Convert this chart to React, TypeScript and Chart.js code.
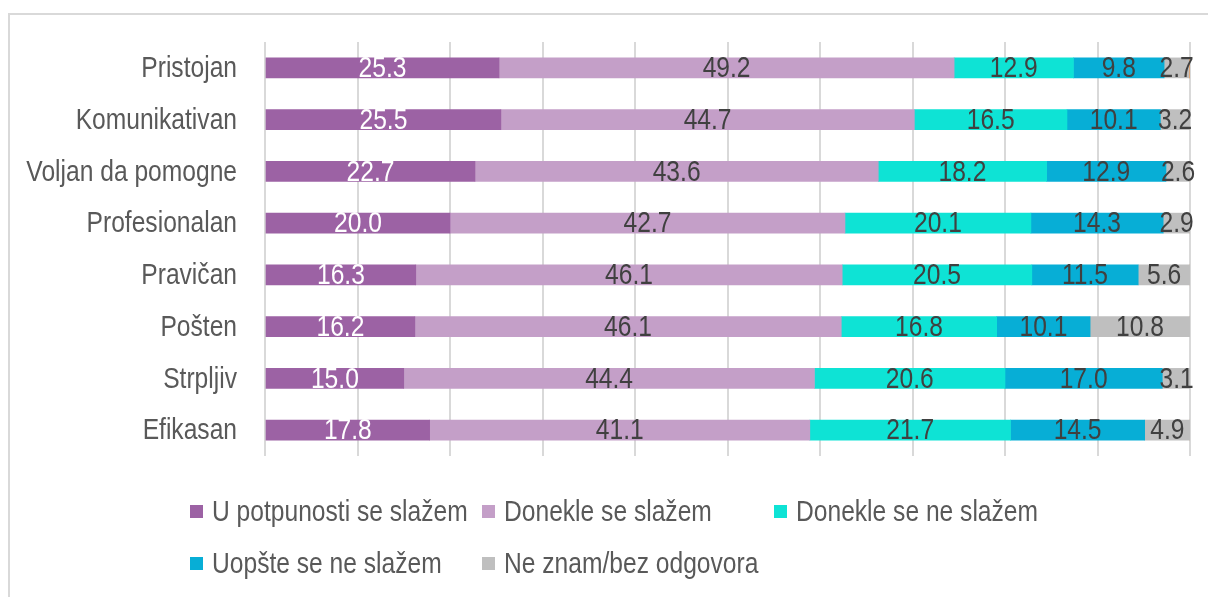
import React, { useEffect, useRef } from "react";
import { Chart, registerables } from "chart.js";

Chart.register(...registerables);

const categories = [
  "Pristojan",
  "Komunikativan",
  "Voljan da pomogne",
  "Profesionalan",
  "Pravičan",
  "Pošten",
  "Strpljiv",
  "Efikasan",
];

const seriesNames = [
  "U potpunosti se slažem",
  "Donekle se slažem",
  "Donekle se ne slažem",
  "Uopšte se ne slažem",
  "Ne znam/bez odgovora",
  "Ostalo",
];

const potpunoSlazem = [25.3, 25.5, 22.7, 20.0, 16.3, 16.2, 15.0, 17.8];
const doneklSlazem = [49.2, 44.7, 43.6, 42.7, 46.1, 46.1, 44.4, 41.1];
const doneklNeSlazem = [12.9, 16.5, 18.2, 20.1, 20.5, 16.8, 20.6, 21.7];
const uopsteNeSlazem = [9.8, 10.1, 12.9, 14.3, 11.5, 10.1, 17.0, 14.5];
const neZnam = [2.7, 3.2, 2.6, 2.9, 5.6, 10.8, 3.1, 4.9];
const ostalo = [0.3, 0.3, 0, 0, 0.3, 0.3, 0, 0.3];

const seriesValues = [potpunoSlazem, doneklSlazem, doneklNeSlazem, uopsteNeSlazem, neZnam, ostalo];
const seriesColors = ["#9c62a4", "#c49fc8", "#0ee3d5", "#07aed6", "#bfbfbf", "#f79646"];
const labelColors = ["#ffffff", "#404040", "#404040", "#404040", "#404040", null];
const legendCount = 5;
const legendCols = [0, 1, 2, 0, 1];
const legendRows = [0, 0, 0, 1, 1];

const FONT = "'Liberation Sans', Arial, sans-serif";
const NARROW = 0.82;

const labelPlugin = {
  id: "segLabels",
  afterDatasetsDraw(chart: any) {
    const ctx = chart.ctx;
    ctx.save();
    ctx.font = `30px ${FONT}`;
    ctx.textAlign = "center";
    ctx.textBaseline = "middle";
    chart.data.datasets.forEach((ds: any, di: number) => {
      const color = labelColors[di];
      if (!color) return;
      const meta = chart.getDatasetMeta(di);
      meta.data.forEach((bar: any, i: number) => {
        const v = ds.data[i];
        if (!v) return;
        const cx = (bar.x + bar.base) / 2;
        ctx.save();
        ctx.translate(cx, bar.y + 1);
        ctx.scale(NARROW, 1);
        ctx.fillStyle = color;
        ctx.fillText(v.toFixed(1), 0, 0);
        ctx.restore();
      });
    });
    // category labels
    const yScale = chart.scales.y;
    ctx.font = `30px ${FONT}`;
    ctx.textAlign = "right";
    ctx.fillStyle = "#595959";
    chart.data.labels.forEach((lab: string, i: number) => {
      const y = yScale.getPixelForValue(i);
      ctx.save();
      ctx.translate(237, y + 1);
      ctx.scale(NARROW, 1);
      ctx.fillText(lab, 0, 0);
      ctx.restore();
    });
    ctx.restore();
  },
};

export default function App() {
  const ref = useRef<HTMLCanvasElement>(null);
  useEffect(() => {
    const canvas = ref.current!;
    const chart = new Chart(canvas, {
      type: "bar",
      data: {
        labels: categories,
        datasets: seriesValues.map((vals, i) => ({
          label: seriesNames[i],
          data: vals,
          backgroundColor: seriesColors[i],
          borderWidth: 0,
          barThickness: 20,
        })),
      },
      options: {
        indexAxis: "y",
        responsive: false,
        animation: false,
        devicePixelRatio: 1,
        layout: { padding: { left: 0, top: 42, right: 18, bottom: 141 } },
        plugins: {
          legend: { display: false },
          tooltip: { enabled: false },
        },
        scales: {
          x: {
            stacked: true,
            min: 0,
            max: 100,
            ticks: { display: false, stepSize: 10 },
            grid: { color: "#d9d9d9", lineWidth: 2, drawTicks: false },
            border: { display: false },
          },
          y: {
            stacked: true,
            afterFit: (s: any) => {
              s.width = 265;
            },
            ticks: { display: false },
            grid: { display: false, drawTicks: false },
            border: { display: false },
          },
        },
      },
      plugins: [labelPlugin],
    });
    return () => chart.destroy();
  }, []);

  const legendItems = seriesNames.slice(0, legendCount).map((name, i) => (
    <div
      key={name}
      style={{
        position: "absolute",
        left: 190 + legendCols[i] * 292,
        top: 511 + legendRows[i] * 52 - 18,
        height: 36,
        display: "flex",
        alignItems: "center",
        whiteSpace: "nowrap",
      }}
    >
      <span style={{ display: "inline-block", width: 13, height: 13, background: seriesColors[i], marginRight: 9 }} />
      <span
        style={{
          display: "inline-block",
          font: `30px ${FONT}`,
          lineHeight: "36px",
          color: "#595959",
          transform: `scaleX(${NARROW})`,
          transformOrigin: "left center",
        }}
      >
        {name}
      </span>
    </div>
  ));

  return (
    <div style={{ position: "fixed", left: 0, top: 0, width: 1208, height: 597, background: "#fff", overflow: "hidden" }}>
      <div
        style={{
          position: "absolute",
          left: 8,
          top: 13,
          width: 1300,
          height: 700,
          borderLeft: "2px solid #d9d9d9",
          borderTop: "2px solid #d9d9d9",
          boxSizing: "border-box",
        }}
      />
      <canvas ref={ref} width={1208} height={597} style={{ position: "absolute", left: 0, top: 0, width: 1208, height: 597 }} />
      {legendItems}
    </div>
  );
}
